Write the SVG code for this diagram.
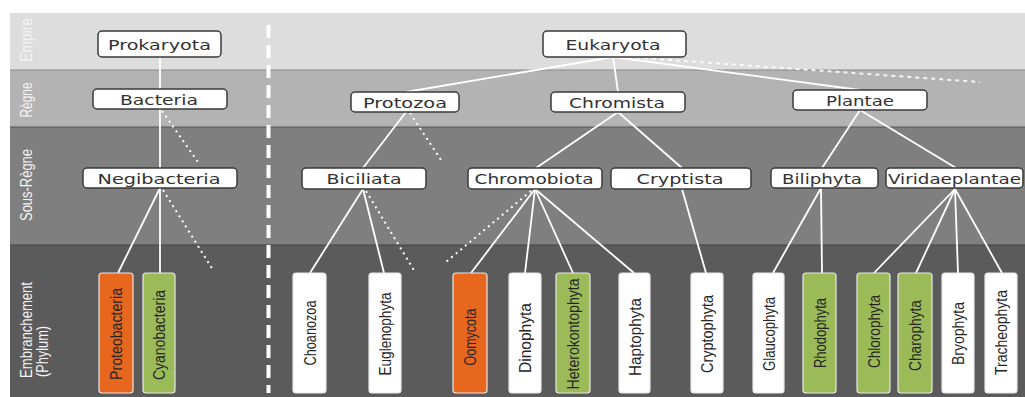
<svg xmlns="http://www.w3.org/2000/svg" width="1025" height="397" viewBox="0 0 1025 397">
<style>
.node rect{fill:#ffffff;stroke:#3a3a3a;stroke-width:1.5}
.node text{font-family:"DejaVu Sans","Liberation Sans",sans-serif;font-size:14px;fill:#333333;text-anchor:middle}
.ph rect{stroke:#e8e8e8;stroke-width:1.2}
.ph text{font-family:"Liberation Sans","DejaVu Sans",sans-serif;font-size:16px;fill:#262626;text-anchor:middle}
.w rect{fill:#ffffff}
.o rect{fill:#e8671e}
.g rect{fill:#9bbb59}
.band{font-family:"Liberation Sans","DejaVu Sans",sans-serif;font-size:17px;fill:#f4f4f4}
.ln{stroke:#ffffff;stroke-width:1.8;fill:none}
.dot{stroke:#ffffff;stroke-width:2;stroke-dasharray:2 4;fill:none}
.dash{stroke:#ffffff;stroke-width:2;stroke-dasharray:4 4;fill:none;opacity:0.85}
</style>
<rect x="0" y="0" width="1025" height="397" fill="#ffffff"/>
<g id="bands">
<rect x="10" y="13" width="1015" height="57" fill="#dddddd"/>
<rect x="10" y="70" width="1015" height="57" fill="#b3b3b3"/>
<rect x="10" y="127" width="1015" height="118" fill="#7f7f7f"/>
<rect x="10" y="245" width="1015" height="152" fill="#5b5b5b"/>
<line x1="10" y1="70" x2="1025" y2="70" stroke="#8a8a8a" stroke-width="1"/>
<line x1="10" y1="127" x2="1025" y2="127" stroke="#555555" stroke-width="1"/>
<line x1="10" y1="245" x2="1025" y2="245" stroke="#444444" stroke-width="1"/>
<text class="band" transform="translate(32,40) rotate(-90)" text-anchor="middle" textLength="44" lengthAdjust="spacingAndGlyphs">Empire</text>
<text class="band" transform="translate(32,100) rotate(-90)" text-anchor="middle" textLength="35" lengthAdjust="spacingAndGlyphs">Règne</text>
<text class="band" transform="translate(32,185) rotate(-90)" text-anchor="middle" textLength="72" lengthAdjust="spacingAndGlyphs">Sous-Règne</text>
<text class="band" transform="translate(32,378) rotate(-90)" textLength="96" lengthAdjust="spacingAndGlyphs">Embranchement</text>
<text class="band" transform="translate(48,377) rotate(-90)" textLength="51" lengthAdjust="spacingAndGlyphs">(Phylum)</text>
<line x1="268.5" y1="25" x2="268.5" y2="393" stroke="#ffffff" stroke-width="4" stroke-dasharray="13 7"/>
</g>
<g id="connectors">
<line class="ln" x1="160" y1="57" x2="160" y2="89"/>
<line class="ln" x1="160" y1="109" x2="160" y2="168"/>
<line class="ln" x1="160" y1="188" x2="118" y2="273"/>
<line class="ln" x1="160" y1="188" x2="160" y2="273"/>
<line class="dot" x1="162" y1="111" x2="198" y2="162"/>
<line class="dot" x1="163" y1="190" x2="213" y2="270"/>
<line class="ln" x1="613" y1="57" x2="406" y2="92"/>
<line class="ln" x1="613" y1="57" x2="618" y2="92"/>
<line class="ln" x1="613" y1="57" x2="860" y2="90"/>
<line class="dash" x1="628" y1="57" x2="980" y2="82"/>
<line class="ln" x1="406" y1="112" x2="363" y2="168"/>
<line class="dot" x1="410" y1="113" x2="443" y2="163"/>
<line class="ln" x1="618" y1="112" x2="536" y2="168"/>
<line class="ln" x1="618" y1="112" x2="682" y2="168"/>
<line class="ln" x1="860" y1="110" x2="822" y2="168"/>
<line class="ln" x1="860" y1="110" x2="956" y2="168"/>
<line class="ln" x1="363" y1="189" x2="310" y2="273"/>
<line class="ln" x1="363" y1="189" x2="384" y2="273"/>
<line class="dot" x1="366" y1="191" x2="415" y2="272"/>
<line class="ln" x1="535" y1="189" x2="471" y2="273"/>
<line class="ln" x1="535" y1="189" x2="525" y2="273"/>
<line class="ln" x1="535" y1="189" x2="573" y2="273"/>
<line class="ln" x1="535" y1="189" x2="634" y2="273"/>
<line class="dot" x1="531" y1="191" x2="446" y2="262"/>
<line class="ln" x1="682" y1="189" x2="706" y2="273"/>
<line class="ln" x1="821" y1="188" x2="773" y2="273"/>
<line class="ln" x1="821" y1="188" x2="822" y2="273"/>
<line class="ln" x1="955" y1="189" x2="874" y2="273"/>
<line class="ln" x1="955" y1="189" x2="916" y2="273"/>
<line class="ln" x1="955" y1="189" x2="958" y2="273"/>
<line class="ln" x1="955" y1="189" x2="1002" y2="273"/>
</g>
<g id="prokaryota" class="node"><rect x="98" y="31" width="123" height="26" rx="4"/><text x="159.5" y="49.5" textLength="103" lengthAdjust="spacingAndGlyphs">Prokaryota</text></g>
<g id="eukaryota" class="node"><rect x="543" y="31" width="143" height="26" rx="4"/><text x="613" y="49.5" textLength="95" lengthAdjust="spacingAndGlyphs">Eukaryota</text></g>
<g id="bacteria" class="node"><rect x="93" y="89" width="134" height="20" rx="4"/><text x="159" y="104.5" textLength="78" lengthAdjust="spacingAndGlyphs">Bacteria</text></g>
<g id="protozoa" class="node"><rect x="351" y="92" width="108" height="20" rx="4"/><text x="405" y="107.5" textLength="84" lengthAdjust="spacingAndGlyphs">Protozoa</text></g>
<g id="chromista" class="node"><rect x="551" y="92" width="134" height="20" rx="4"/><text x="617" y="107.5" textLength="96" lengthAdjust="spacingAndGlyphs">Chromista</text></g>
<g id="plantae" class="node"><rect x="793" y="90" width="134" height="20" rx="4"/><text x="860" y="105.5" textLength="68" lengthAdjust="spacingAndGlyphs">Plantae</text></g>
<g id="negibacteria" class="node"><rect x="83" y="168" width="154" height="20" rx="4"/><text x="159" y="184" textLength="123" lengthAdjust="spacingAndGlyphs">Negibacteria</text></g>
<g id="biciliata" class="node"><rect x="302" y="168" width="124" height="21" rx="4"/><text x="364" y="184" textLength="75" lengthAdjust="spacingAndGlyphs">Biciliata</text></g>
<g id="chromobiota" class="node"><rect x="468" y="168" width="134" height="21" rx="4"/><text x="534" y="184" textLength="119" lengthAdjust="spacingAndGlyphs">Chromobiota</text></g>
<g id="cryptista" class="node"><rect x="611" y="168" width="140" height="21" rx="4"/><text x="680" y="184" textLength="87" lengthAdjust="spacingAndGlyphs">Cryptista</text></g>
<g id="biliphyta" class="node"><rect x="771" y="168" width="107" height="20" rx="4"/><text x="822" y="184" textLength="80" lengthAdjust="spacingAndGlyphs">Biliphyta</text></g>
<g id="viridaeplantae" class="node"><rect x="886" y="168" width="137" height="20" rx="4"/><text x="954.5" y="184" textLength="133" lengthAdjust="spacingAndGlyphs">Viridaeplantae</text></g>
<g id="proteobacteria" class="ph o"><rect x="99" y="273" width="34" height="120" rx="3"/><text transform="translate(116,334) rotate(-90)" y="6" textLength="92" lengthAdjust="spacingAndGlyphs">Proteobacteria</text></g>
<g id="cyanobacteria" class="ph g"><rect x="143" y="273" width="32" height="120" rx="3"/><text transform="translate(159,335) rotate(-90)" y="6" textLength="90" lengthAdjust="spacingAndGlyphs">Cyanobacteria</text></g>
<g id="choanozoa" class="ph w"><rect x="293" y="273" width="33" height="120" rx="3"/><text transform="translate(309.5,333) rotate(-90)" y="6" textLength="65" lengthAdjust="spacingAndGlyphs">Choanozoa</text></g>
<g id="euglenophyta" class="ph w"><rect x="369" y="273" width="32" height="120" rx="3"/><text transform="translate(385,334) rotate(-90)" y="6" textLength="83" lengthAdjust="spacingAndGlyphs">Euglenophyta</text></g>
<g id="oomycota" class="ph o"><rect x="453" y="273" width="34" height="120" rx="3"/><text transform="translate(470,337) rotate(-90)" y="6" textLength="57" lengthAdjust="spacingAndGlyphs">Oomycota</text></g>
<g id="dinophyta" class="ph w"><rect x="509" y="273" width="32" height="120" rx="3"/><text transform="translate(525,338) rotate(-90)" y="6" textLength="70" lengthAdjust="spacingAndGlyphs">Dinophyta</text></g>
<g id="heterokontophyta" class="ph g"><rect x="556" y="273" width="34" height="120" rx="3"/><text transform="translate(573,334) rotate(-90)" y="6" textLength="111" lengthAdjust="spacingAndGlyphs">Heterokontophyta</text></g>
<g id="haptophyta" class="ph w"><rect x="619" y="273" width="31" height="120" rx="3"/><text transform="translate(634.5,337) rotate(-90)" y="6" textLength="78" lengthAdjust="spacingAndGlyphs">Haptophyta</text></g>
<g id="cryptophyta" class="ph w"><rect x="691" y="273" width="32" height="120" rx="3"/><text transform="translate(707,334) rotate(-90)" y="6" textLength="78" lengthAdjust="spacingAndGlyphs">Cryptophyta</text></g>
<g id="glaucophyta" class="ph w"><rect x="753" y="273" width="31" height="120" rx="3"/><text transform="translate(768.5,334) rotate(-90)" y="6" textLength="74" lengthAdjust="spacingAndGlyphs">Glaucophyta</text></g>
<g id="rhodophyta" class="ph g"><rect x="803" y="273" width="33" height="120" rx="3"/><text transform="translate(819.5,333) rotate(-90)" y="6" textLength="70" lengthAdjust="spacingAndGlyphs">Rhodophyta</text></g>
<g id="chlorophyta" class="ph g"><rect x="857" y="273" width="33" height="120" rx="3"/><text transform="translate(873.5,331.5) rotate(-90)" y="6" textLength="73" lengthAdjust="spacingAndGlyphs">Chlorophyta</text></g>
<g id="charophyta" class="ph g"><rect x="898" y="273" width="34" height="120" rx="3"/><text transform="translate(915,335.5) rotate(-90)" y="6" textLength="71" lengthAdjust="spacingAndGlyphs">Charophyta</text></g>
<g id="bryophyta" class="ph w"><rect x="942" y="273" width="32" height="120" rx="3"/><text transform="translate(958,333.5) rotate(-90)" y="6" textLength="63" lengthAdjust="spacingAndGlyphs">Bryophyta</text></g>
<g id="tracheophyta" class="ph w"><rect x="985" y="273" width="32" height="120" rx="3"/><text transform="translate(1001,332.5) rotate(-90)" y="6" textLength="85" lengthAdjust="spacingAndGlyphs">Tracheophyta</text></g>
</svg>
